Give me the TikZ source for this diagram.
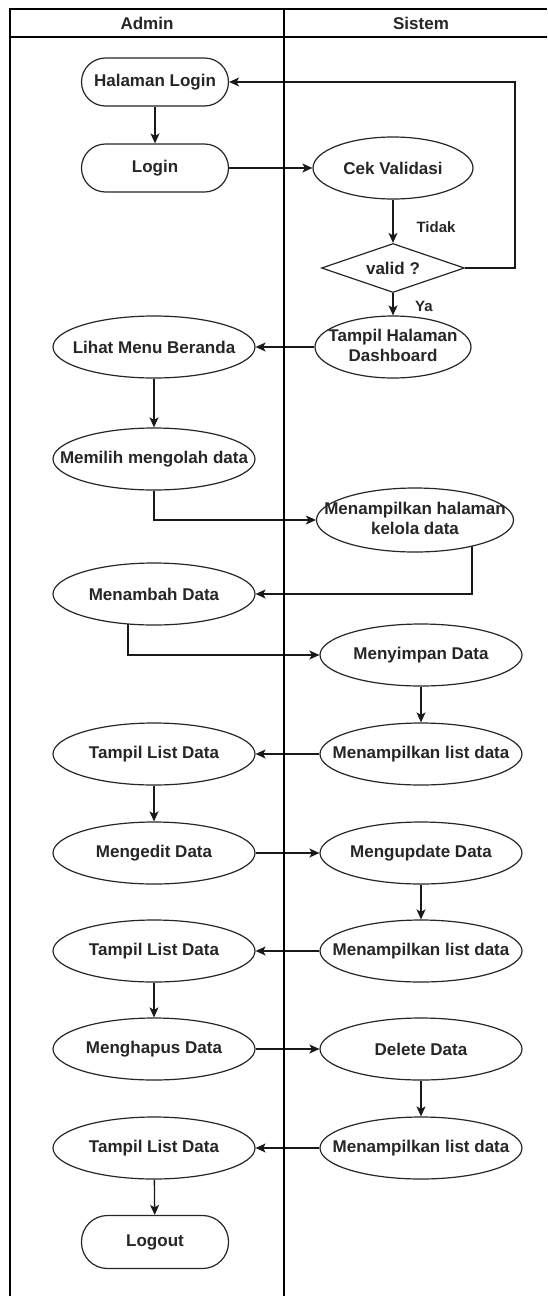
\documentclass[tikz,border=0pt]{standalone}
\usepackage{fontspec}
\setmainfont{Liberation Sans}
\usetikzlibrary{shapes.geometric,arrows.meta,backgrounds}
\newcommand\zw[1]{\makebox[0pt][c]{#1}}
\newcommand\zwtwo[2]{\makebox[0pt][c]{\begin{tabular}{@{}c@{}}#1\\#2\end{tabular}}}
\begin{document}
\begin{tikzpicture}[x=1pt,y=-1pt,
  every node/.style={font=\fontsize{17}{20}\selectfont\bfseries, text=black!85},
  ell/.style={draw=black!85, line width=1.2pt, ellipse, fill=white, minimum width=202pt, minimum height=62pt, inner sep=0pt},
  stad/.style={draw=black!85, line width=1.2pt, rectangle, rounded corners=24pt, fill=white, minimum width=147pt, minimum height=48pt, inner sep=0pt},
  dia/.style={draw=black!85, line width=1.2pt, diamond, aspect=2.9, fill=white, minimum width=143pt, minimum height=49pt, inner sep=0pt},
  flow/.style={line width=1.3pt, draw=black!90, -{Stealth[length=10pt,width=9pt,inset=2.5pt]}},
  lane/.style={line width=1.4pt, draw=black},
  lbl/.style={font=\fontsize{15}{18}\selectfont\bfseries}]
\useasboundingbox (0,0) rectangle (547,1296);
% swimlanes
\draw[lane] (10,1296) -- (10,9) -- (547,9);
\draw[lane] (10,37) -- (547,37);
\draw[lane] (284,9) -- (284,1296);
\node (hAdmin) at (147,23) {Admin};
\node (hSistem) at (421,23) {Sistem};
% left column
\node[stad] (hl) at (155,82) {\zw{Halaman Login}};
\node[stad] (login) at (155,168) {\zw{Login}};
\node[ell] (lihat) at (154,347) {\zw{Lihat Menu Beranda}};
\node[ell] (memilih) at (154,459) {\zw{Memilih mengolah data}};
\node[ell] (menambah) at (154,594) {\zw{Menambah Data}};
\node[ell] (tampil1) at (154,754) {\zw{Tampil List Data}};
\node[ell] (edit) at (154,853) {\zw{Mengedit Data}};
\node[ell] (tampil2) at (154,951) {\zw{Tampil List Data}};
\node[ell] (hapus) at (154,1049) {\zw{Menghapus Data}};
\node[ell] (tampil3) at (154,1148) {\zw{Tampil List Data}};
\node[stad, minimum height=53pt, rounded corners=26pt] (logout) at (155,1242) {\zw{Logout}};
% right column
\node[ell, minimum width=160pt] (cek) at (393,168) {\zw{Cek Validasi}};
\node[dia] (valid) at (393,268) {\zw{valid ?}};
\node[ell, minimum width=156pt] (dash) at (393,347) {\zwtwo{Tampil Halaman}{Dashboard}};
\node[ell, minimum width=197pt, minimum height=64pt] (kelola) at (415,520) {\zwtwo{Menampilkan halaman}{kelola data}};
\node[ell] (simpan) at (421,655) {\zw{Menyimpan Data}};
\node[ell] (list1) at (421,754) {\zw{Menampilkan list data}};
\node[ell] (update) at (421,853) {\zw{Mengupdate Data}};
\node[ell] (list2) at (421,951) {\zw{Menampilkan list data}};
\node[ell] (delete) at (421,1049) {\zw{Delete Data}};
\node[ell] (list3) at (421,1148) {\zw{Menampilkan list data}};
% labels
\node[lbl] (tidak) at (436,227) {Tidak};
\node[lbl] (ya) at (424,306) {Ya};
\coordinate (loopc) at (515,268);
% connectors
\begin{scope}[on background layer]
\draw[flow] (hl) -- (login);
\draw[flow] (login) -- (cek);
\draw[flow] (cek) -- (valid);
\draw[flow] (valid) -- (dash);
\draw[flow] (valid.east) -- (loopc) |- (hl.east);
\draw[flow] (dash) -- (lihat);
\draw[flow] (lihat) -- (memilih);
\draw[flow] (memilih.south) |- (kelola.west);
\draw[flow] ([xshift=57pt]kelola.center) |- (menambah.east);
\draw[flow] ([xshift=-26pt]menambah.center) |- (simpan.west);
\draw[flow] (simpan) -- (list1);
\draw[flow] (list1) -- (tampil1);
\draw[flow] (tampil1) -- (edit);
\draw[flow] (edit) -- (update);
\draw[flow] (update) -- (list2);
\draw[flow] (list2) -- (tampil2);
\draw[flow] (tampil2) -- (hapus);
\draw[flow] (hapus) -- (delete);
\draw[flow] (delete) -- (list3);
\draw[flow] (list3) -- (tampil3);
\draw[flow] (tampil3) -- (logout);
\end{scope}
\end{tikzpicture}
\end{document}
